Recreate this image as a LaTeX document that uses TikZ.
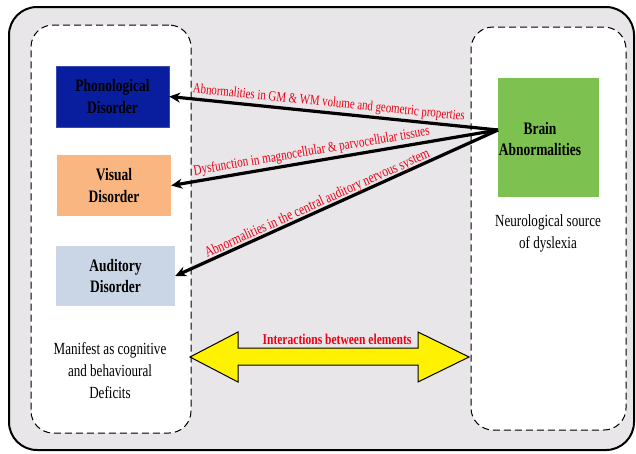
\documentclass[tikz,border=0pt]{standalone}
\usepackage{fontspec}
\setmainfont[FakeStretch=0.77]{Liberation Serif}
\newfontfamily\lblfont{Liberation Serif}
\usetikzlibrary{arrows.meta}
\definecolor{bggray}{RGB}{232,230,232}
\definecolor{phonblue}{RGB}{8,30,158}
\definecolor{visorange}{RGB}{250,182,128}
\definecolor{audblue}{RGB}{202,214,230}
\definecolor{braingreen}{RGB}{125,193,80}
\definecolor{lblred}{RGB}{240,0,20}
\newcommand{\redlbl}[2][14.5]{\scalebox{0.77}[1]{\lblfont\fontsize{#1}{16}\selectfont #2}}
\tikzset{
  panel/.style={draw=black, fill=white, line width=1pt, dash pattern=on 7pt off 4pt, rounded corners=22pt, minimum width=#1},
  disbox/.style={inner sep=0pt, align=center, font=\fontsize{17.5}{21.5}\selectfont\bfseries},
  plain/.style={inner sep=0pt, align=center, font=\fontsize{17}{22}\selectfont},
  link/.style={line width=3.2pt, {Stealth[length=11pt,width=10pt]}-},
  lbl/.style={text=lblred, sloped, anchor=south west, inner sep=1.5pt},
}
\begin{document}
\begin{tikzpicture}[x=1pt,y=-1pt]
\useasboundingbox (0,0) rectangle (636,453);
\draw[line width=2pt, fill=bggray, rounded corners=28pt] (9,7) rectangle (634,450);
% panels
\node[panel=160pt, minimum height=408pt] (leftpanel) at (111,229) {};
\node[panel=155pt, minimum height=403pt] (rightpanel) at (548.5,228.5) {};
% boxes
\node[disbox, fill=phonblue, draw=phonblue!80!white, minimum width=113pt, minimum height=61pt] (phon) at (112.5,96.5) {Phonological\\Disorder};
\node[disbox, fill=visorange, minimum width=114pt, minimum height=61pt] (vis) at (114,185.5) {Visual\\Disorder};
\node[disbox, fill=audblue, minimum width=119pt, minimum height=60pt] (aud) at (115.5,276) {Auditory\\Disorder};
\node[disbox, fill=braingreen, minimum width=101pt, minimum height=119pt] (brain) at (548.5,137.5) {};
\node[disbox] (braintxt) at (540,139) {Brain\\Abnormalities};
\node[plain] (neuro) at (548,233) {Neurological source\\of dyslexia};
\node[plain] (manifest) at (110,371) {Manifest as cognitive\\and behavioural\\Deficits};
\coordinate (src) at (498,130);
% arrows
\draw[link] (phon.east) -- (src) node[lbl, pos=0.06] {\redlbl[14.1]{Abnormalities in GM \& WM volume and geometric properties}};
\draw[link] (vis.east) -- (src) node[lbl, pos=0.065] {\redlbl{Dysfunction in magnocellular \& parvocellular tissues}};
\draw[link] (aud.east) -- (src) node[lbl, pos=0.095, yshift=-3pt] {\redlbl[15]{Abnormalities in the central auditory nervous system}};
% double arrow
\draw[line width=1pt, fill=yellow, line join=miter]
  (190,357) -- (238,332) -- (238,348) -- (418,348) -- (418,332) -- (469,357)
  -- (418,382) -- (418,365) -- (238,365) -- (238,382) -- cycle;
\node[text=lblred, font=\fontsize{15}{17}\selectfont\bfseries, inner sep=0pt] (inter) at (337,339) {Interactions between elements};
\end{tikzpicture}
\end{document}
